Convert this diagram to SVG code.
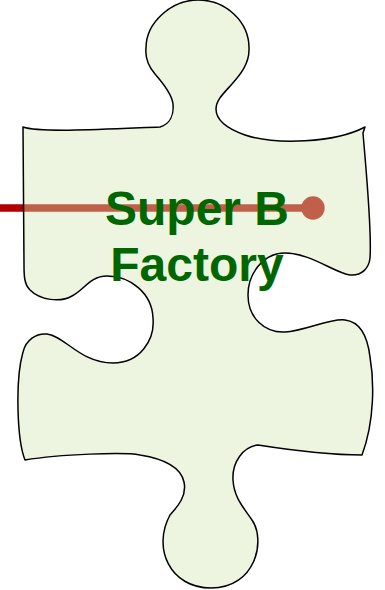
<svg xmlns="http://www.w3.org/2000/svg" xmlns:xlink="http://www.w3.org/1999/xlink" width="385" height="590" viewBox="0 0 385 590">
<style>
.fill{fill:#EDF5E0;stroke:none}
.outline{fill:none;stroke:#000;stroke-width:1.5;stroke-linejoin:round}
.lbl{font-family:"Liberation Sans",Arial,sans-serif;font-weight:bold;font-size:48px;fill:#006600;text-anchor:middle}
</style>
<defs>
<path id="shape" d="M23,127 C40,133 110,129 160,127 C170,124 174,115 173,104 C172,94 162,82 155,74 C148,66 145,58 146,48 C146,22 172,0 198,0 C226,0 250,22 249,50 C249,64 240,75 232,84 C224,93 216,100 216,109 C216,120 228,129 245,135 C275,145 335,143 365,127 L363,133 C366,170 372,230 370,258 C369,268 362,276 350,275 C335,273 310,253 285,253 C262,253 248,275 248,295 C248,318 265,333 285,332 C305,331 330,318 345,320 C362,322 368,340 370,357 C374,380 375,420 362,455 C330,455 290,450 258,445 C243,447 232,462 233,480 C234,498 244,508 252,520 C266,540 256,588 211,588 C170,588 152,548 170,515 C178,506 187,496 184,482 C181,468 165,459 140,455 C125,452 60,454 25,460 C17,440 15,380 23,352 C26,340 36,333 47,334 C65,336 80,363 113,363 C140,363 155,340 153,318 C152,293 130,276 107,276 C90,276 84,290 72,296 C60,303 40,300 30,290 C24,284 24,275 24,265 Z"/>
</defs>
<g id="node-super-b-factory">
<use xlink:href="#shape" class="fill"/>
</g>
<g id="connectors">
<line x1="0" y1="208" x2="24" y2="208" stroke="#B00000" stroke-width="7.5"/>
<line x1="24" y1="208" x2="313" y2="208" stroke="#C1604A" stroke-width="7.5"/>
<circle cx="313" cy="208" r="11.7" fill="#C1604A"/>
</g>
<g id="node-super-b-factory-label">
<use xlink:href="#shape" class="outline"/>
<text class="lbl" x="197" y="225">Super B</text>
<text class="lbl" x="197" y="281">Factory</text>
</g>
</svg>
